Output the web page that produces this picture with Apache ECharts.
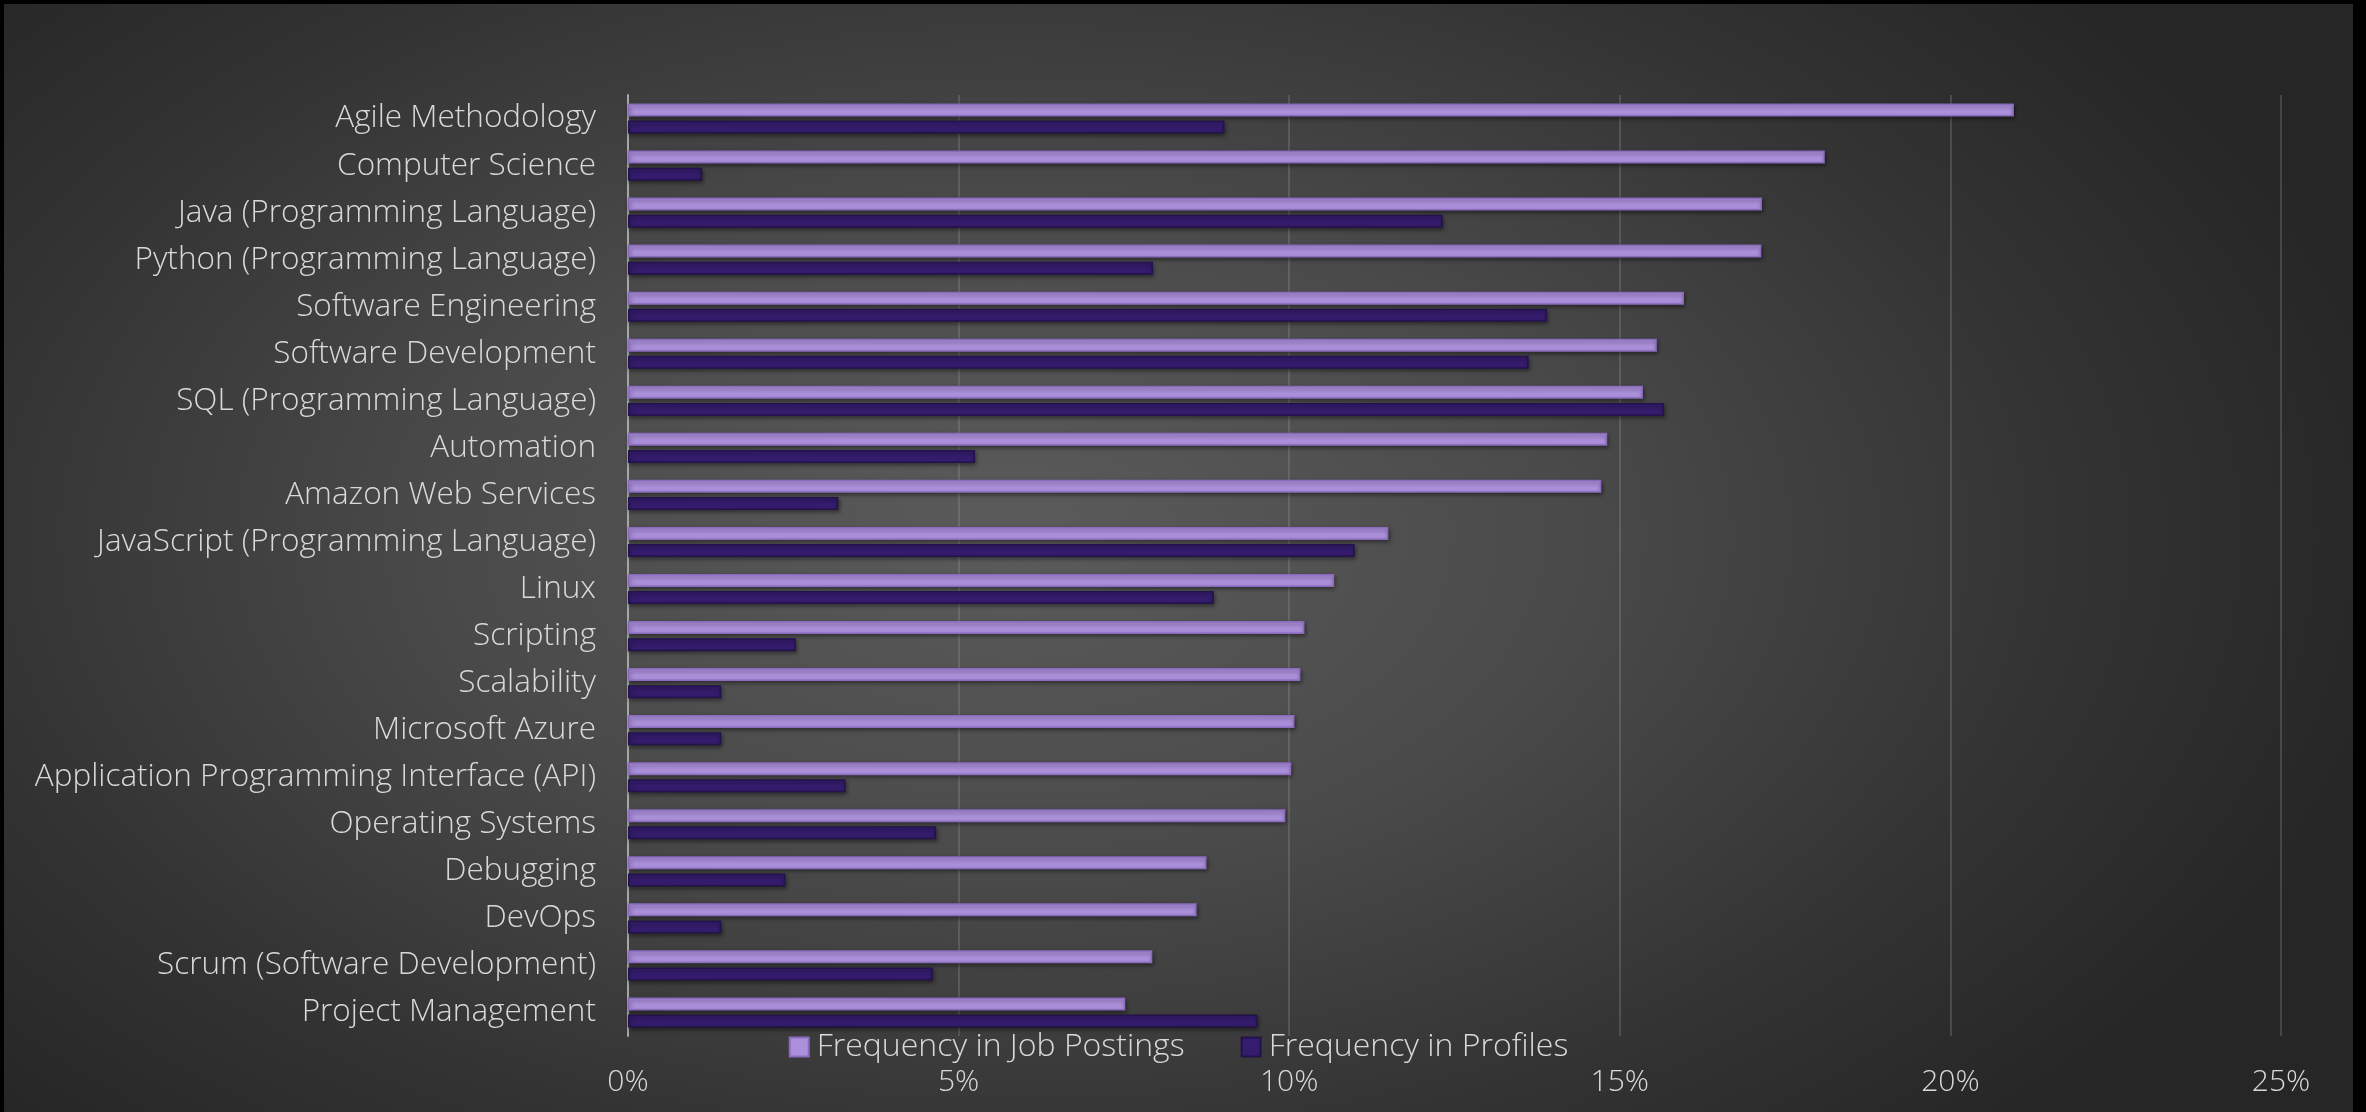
<!DOCTYPE html>
<html>
<head>
<meta charset="utf-8">
<script src="https://cdn.jsdelivr.net/npm/echarts@6/dist/echarts.min.js"></script>
<style>
html,body{margin:0;padding:0;background:#000;width:2366px;height:1112px;overflow:hidden;}
#wrap{position:absolute;left:4px;top:4px;width:2349px;height:1108px;
background:radial-gradient(ellipse 60% 75% at 43% 48%, #5b5b5b 0%, #4a4a4a 40%, #333333 75%, #262626 100%);}
#chart{position:absolute;left:0;top:0;width:2349px;height:1108px;}
</style>
</head>
<body>
<div id="wrap"><div id="chart"></div></div>
<script>
const categories = [
  "Agile Methodology",
  "Computer Science",
  "Java (Programming Language)",
  "Python (Programming Language)",
  "Software Engineering",
  "Software Development",
  "SQL (Programming Language)",
  "Automation",
  "Amazon Web Services",
  "JavaScript (Programming Language)",
  "Linux",
  "Scripting",
  "Scalability",
  "Microsoft Azure",
  "Application Programming Interface (API)",
  "Operating Systems",
  "Debugging",
  "DevOps",
  "Scrum (Software Development)",
  "Project Management"
];
const jobPostings = [20.96, 18.10, 17.15, 17.14, 15.97, 15.56, 15.35, 14.81, 14.72, 11.50, 10.68, 10.23, 10.17, 10.08, 10.03, 9.94, 8.75, 8.60, 7.93, 7.52];
const profiles    = [9.02, 1.12, 12.32, 7.94, 13.90, 13.62, 15.67, 5.25, 3.18, 10.99, 8.86, 2.54, 1.41, 1.41, 3.29, 4.66, 2.38, 1.41, 4.61, 9.52];
const seriesNames = ["Frequency in Job Postings", "Frequency in Profiles"];
const xTicks = { min: 0, max: 25, interval: 5 };

const FONT = "'Open Sans', 'Noto Sans', sans-serif";
const chart = echarts.init(document.getElementById('chart'), null, {renderer: 'canvas'});
chart.setOption({
  backgroundColor: 'transparent',
  animation: false,
  textStyle: { fontFamily: FONT },
  grid: { left: 624, right: 72, top: 91, bottom: 76, containLabel: false },
  legend: {
    data: seriesNames,
    top: 1022,
    left: 'center',
    itemWidth: 19,
    itemHeight: 19,
    itemGap: 56,
    textStyle: { color: '#d9d9d9', fontSize: 32, fontFamily: FONT, fontWeight: 300, padding: [0, 0, 0, 3] },
    icon: 'rect'
  },
  xAxis: {
    type: 'value',
    min: xTicks.min, max: xTicks.max, interval: xTicks.interval,
    axisLine: { show: false },
    axisTick: { show: false },
    splitLine: { lineStyle: { color: 'rgba(160,160,160,0.35)', width: 1.5 } },
    axisLabel: { color: '#d9d9d9', fontSize: 30, fontFamily: FONT, fontWeight: 300, margin: 31, formatter: v => v + '%' }
  },
  yAxis: {
    type: 'category',
    data: categories,
    inverse: true,
    axisLine: { show: true, lineStyle: { color: '#a6a6a6', width: 2 } },
    axisTick: { show: false },
    axisLabel: { color: '#d9d9d9', fontSize: 31.5, fontFamily: FONT, fontWeight: 300, margin: 32, padding: [6, 0, 0, 0] }
  },
  series: [
    {
      name: seriesNames[0], type: 'bar', data: jobPostings,
      barWidth: 13, barGap: '32%',
      itemStyle: { color: '#ac90dc', borderColor: '#8a6cbf', borderWidth: 1.5,
        shadowBlur: 4, shadowColor: 'rgba(0,0,0,0.45)', shadowOffsetX: 1, shadowOffsetY: 2 }
    },
    {
      name: seriesNames[1], type: 'bar', data: profiles,
      barWidth: 13, barGap: '32%',
      itemStyle: { color: '#351c6e', borderColor: '#24124d', borderWidth: 1.5,
        shadowBlur: 4, shadowColor: 'rgba(0,0,0,0.45)', shadowOffsetX: 1, shadowOffsetY: 2 }
    }
  ]
});
</script>
</body>
</html>
